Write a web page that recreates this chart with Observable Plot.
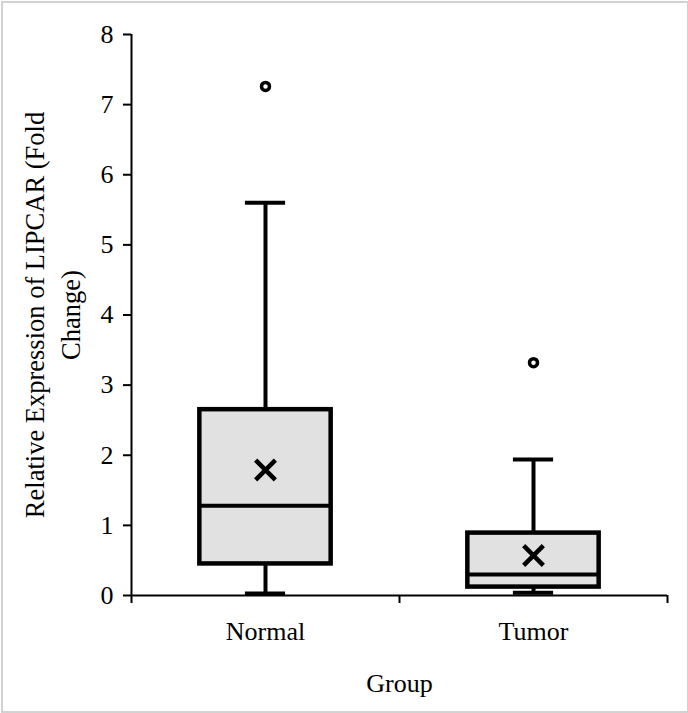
<!DOCTYPE html>
<html>
<head>
<meta charset="utf-8">
<script src="https://cdn.jsdelivr.net/npm/d3@7"></script>
<script src="https://cdn.jsdelivr.net/npm/@observablehq/plot@0.6"></script>
<style>
  html, body { margin: 0; padding: 0; background: white; }
  #wrap { position: relative; width: 688px; height: 713px; }
  #border { position: absolute; left: 1px; top: 1px; width: 684px; height: 708px; border: 2px solid #d2d2d2; pointer-events: none; }
</style>
</head>
<body>
<div id="wrap"><div id="border"></div></div>
<script>
// ---- data ----
const groups = ["Normal", "Tumor"];
const lowerWhisker = [0.03, 0.04];
const q1 = [0.45, 0.12];
const median = [1.28, 0.30];
const q3 = [2.65, 0.89];
const upperWhisker = [5.60, 1.94];
const mean = [1.79, 0.57];
const outlierGroup = ["Normal", "Tumor"];
const outlierValue = [7.26, 3.32];
const yTicks = [0, 1, 2, 3, 4, 5, 6, 7, 8];
const xTitle = "Group";
const yTitle = "Relative Expression of LIPCAR (Fold\nChange)";

// ---- derived table ----
const boxHalf = 0.245, capHalf = 0.075;
const stats = groups.map((g, i) => ({
  group: g, pos: i + 0.5,
  lo: lowerWhisker[i], q1: q1[i], med: median[i], q3: q3[i], hi: upperWhisker[i], mean: mean[i]
}));
const outliers = outlierValue.map((v, i) => ({pos: groups.indexOf(outlierGroup[i]) + 0.5, value: v}));

const chart = Plot.plot({
  width: 688,
  height: 713,
  marginLeft: 131,
  marginRight: 21,
  marginTop: 34,
  marginBottom: 118,
  style: {fontFamily: "'Liberation Serif', 'Times New Roman', serif", fontSize: "26px", color: "black", background: "white"},
  x: {type: "linear", domain: [0, 2]},
  y: {type: "linear", domain: [0, 8]},
  marks: [
    // whiskers
    Plot.ruleX(stats, {x: "pos", y1: "q3", y2: "hi", stroke: "black", strokeWidth: 4}),
    Plot.ruleX(stats, {x: "pos", y1: "lo", y2: "q1", stroke: "black", strokeWidth: 4}),
    Plot.ruleY(stats, {y: "hi", x1: d => d.pos - capHalf, x2: d => d.pos + capHalf, stroke: "black", strokeWidth: 4}),
    Plot.ruleY(stats, {y: "lo", x1: d => d.pos - capHalf, x2: d => d.pos + capHalf, stroke: "black", strokeWidth: 4}),
    // boxes
    Plot.rect(stats, {x1: d => d.pos - boxHalf, x2: d => d.pos + boxHalf, y1: "q1", y2: "q3", fill: "#e1e1e1", stroke: "black", strokeWidth: 4.5}),
    Plot.ruleY(stats, {y: "med", x1: d => d.pos - boxHalf, x2: d => d.pos + boxHalf, stroke: "black", strokeWidth: 4}),
    // mean
    Plot.dot(stats, {x: "pos", y: "mean", symbol: "times", r: 9, stroke: "black", strokeWidth: 4.5}),
    // outliers
    Plot.dot(outliers, {x: "pos", y: "value", r: 4, fill: "white", stroke: "black", strokeWidth: 3.5}),
    // axis lines
    Plot.ruleX([0], {y1: 0, y2: 8, stroke: "black", strokeWidth: 2}),
    Plot.ruleY([0], {x1: 0, x2: 2, stroke: "black", strokeWidth: 2}),
    // axes
    Plot.axisY(yTicks, {tickSize: 8, tickPadding: 10, strokeWidth: 2, fontSize: 26, tickFormat: d => String(d), label: null}),
    Plot.axisX([0, 1, 2], {tickSize: 8, strokeWidth: 2, tickFormat: () => "", label: null}),
    Plot.axisX(stats.map(d => d.pos), {tickSize: 0, tickPadding: 26, fontSize: 26, tickFormat: d => groups[Math.floor(d)], label: null}),
    // titles
    Plot.text([xTitle], {frameAnchor: "bottom", dy: 88, lineAnchor: "middle", fontSize: 26, fill: "black"}),
    Plot.text([yTitle], {frameAnchor: "left", textAnchor: "middle", rotate: -90, dx: -81, lineAnchor: "middle", lineHeight: 1.34, fontSize: 26.5, fill: "black"})
  ]
});
document.getElementById("wrap").appendChild(chart);
</script>
</body>
</html>
